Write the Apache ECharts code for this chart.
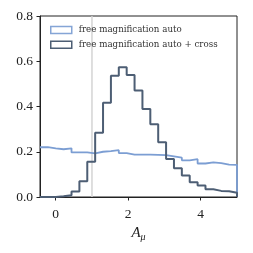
<!DOCTYPE html>
<html>
<head>
<meta charset="utf-8">
<script src="https://cdn.jsdelivr.net/npm/echarts@6/dist/echarts.min.js"></script>
<style>html,body{margin:0;padding:0;background:#fff}#c{width:253px;height:253px}</style>
</head>
<body>
<div id="c"></div>
<script>
// Histogram bins
const binStart = -0.433;
const binEnd = 5.0;
const nBins = 25;
// Series values (density per bin)
const autoValues = [0.220, 0.215, 0.211, 0.215, 0.197, 0.197, 0.193, 0.200, 0.203, 0.207, 0.194, 0.187, 0.187, 0.187, 0.186, 0.185, 0.180, 0.174, 0.162, 0.167, 0.148, 0.153, 0.150, 0.143, 0.142];
const crossValues = [0.0, 0.0, 0.003, 0.008, 0.024, 0.070, 0.156, 0.284, 0.417, 0.536, 0.573, 0.539, 0.471, 0.389, 0.322, 0.242, 0.168, 0.127, 0.095, 0.065, 0.051, 0.034, 0.027, 0.025, 0.019];
const xTicks = [0, 2, 4];
const yTicks = [0, 0.2, 0.4, 0.6, 0.8];
const refLine = 1;
const names = ['free magnification auto', 'free magnification auto + cross'];

const binW = (binEnd - binStart) / nBins;
function stepData(vals) {
  const d = vals.map((v, i) => [binStart + i * binW, v]);
  d.push([binEnd, vals[vals.length - 1]]);
  d.push([binEnd, 0]);
  return d;
}
const FONT = 'Liberation Serif';
const LFONT = 'DejaVu Serif';
const chart = echarts.init(document.getElementById('c'), null, {renderer: 'canvas'});
chart.setOption({
  animation: false,
  grid: {left: 40, right: 16, top: 16, bottom: 56, show: true, borderColor: '#222', borderWidth: 1, backgroundColor: 'transparent'},
  legend: {
    left: 50, top: 25, orient: 'vertical', itemGap: 4.7, itemWidth: 21, itemHeight: 7, padding: 0,
    textStyle: {fontFamily: LFONT, fontSize: 8.7, lineHeight: 10, color: '#333', padding: [0, 0, 0, 2]},
    data: [
      {name: names[0], icon: 'rect', itemStyle: {color: '#fff', borderColor: '#85a5d6', borderWidth: 1.5}},
      {name: names[1], icon: 'rect', itemStyle: {color: '#fff', borderColor: '#4d5e74', borderWidth: 1.5}}
    ]
  },
  xAxis: {
    type: 'value', min: binStart, max: binEnd,
    axisLine: {show: true, onZero: false, lineStyle: {color: '#222', width: 1}},
    axisTick: {show: true, length: 3.5, lineStyle: {color: '#222'}, customValues: xTicks},
    axisLabel: {fontFamily: FONT, fontSize: 13.5, color: '#222', margin: 10, customValues: xTicks, formatter: v => String(v)},
    splitLine: {show: false},
    name: '{a|A}{m|μ}', nameLocation: 'middle', nameGap: 25,
    nameTextStyle: {rich: {a: {fontFamily: FONT, fontStyle: 'italic', fontSize: 15, color: '#222'}, m: {fontFamily: FONT, fontStyle: 'italic', fontSize: 10, color: '#222', verticalAlign: 'bottom', padding: [7, 0, 0, 0]}}}
  },
  yAxis: {
    type: 'value', min: 0, max: 0.8, interval: 0.2,
    axisLine: {show: true, onZero: false, lineStyle: {color: '#222', width: 1}},
    axisTick: {show: true, length: 3.5, lineStyle: {color: '#222'}},
    axisLabel: {fontFamily: FONT, fontSize: 13.5, color: '#222', margin: 7, formatter: v => v.toFixed(1)},
    splitLine: {show: false}
  },
  series: [
    {
      type: 'line', name: 'ref', data: [[refLine, 0], [refLine, 0.8]], symbol: 'none', silent: true,
      lineStyle: {color: '#d4d4d4', width: 1.5}, z: 1
    },
    {
      type: 'line', name: names[0], data: stepData(autoValues), step: 'end', symbol: 'none',
      lineStyle: {color: '#7c9ed3', width: 1.8}, itemStyle: {color: '#7c9ed3'}, z: 2
    },
    {
      type: 'line', name: names[1], data: stepData(crossValues), step: 'end', symbol: 'none',
      lineStyle: {color: '#4d5e74', width: 2}, itemStyle: {color: '#4d5e74'}, z: 3
    }
  ]
});
</script>
</body>
</html>
